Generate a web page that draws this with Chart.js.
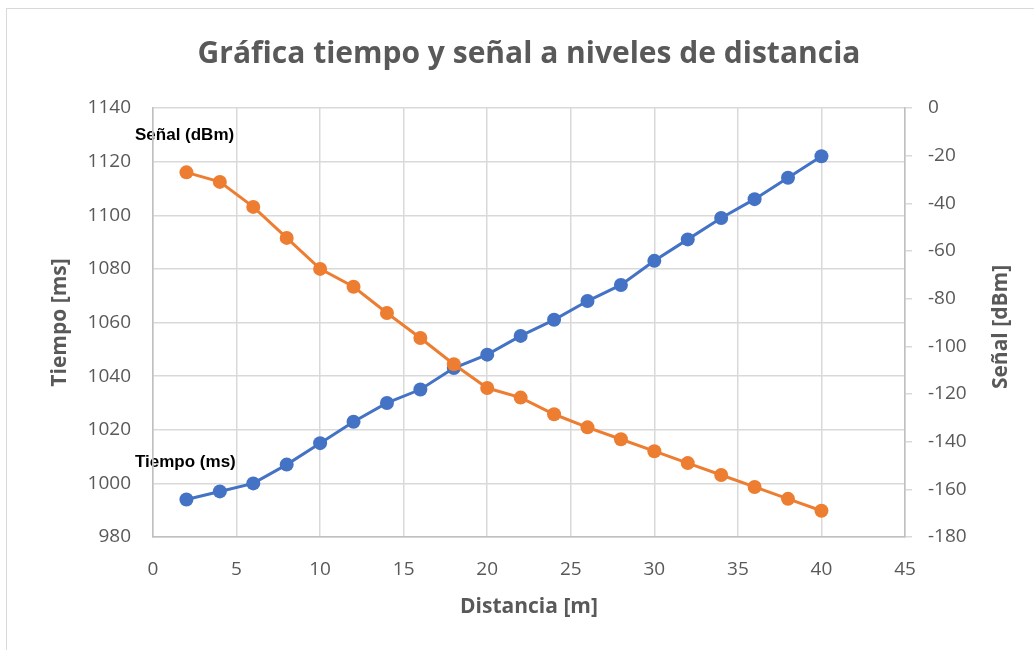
<!DOCTYPE html>
<html>
<head>
<meta charset="utf-8">
<script src="https://cdn.jsdelivr.net/npm/chart.js@4"></script>
<style>
  html, body { margin: 0; padding: 0; background: #fff; overflow: hidden; }
  #frame { position: absolute; left: 6px; top: 8px; width: 1100px; height: 700px; border: 1px solid #d9d9d9; }
  #wrap { position: absolute; left: 0; top: 0; width: 1034px; height: 650px; }
</style>
</head>
<body>
<div id="frame"></div>
<div id="wrap"><canvas id="chart" width="1034" height="650"></canvas></div>
<script>
// distancia [m]
const distancias = [2, 4, 6, 8, 10, 12, 14, 16, 18, 20, 22, 24, 26, 28, 30, 32, 34, 36, 38, 40];
// tiempo [ms]  (eje izquierdo)
const tiempo = [994, 997, 1000, 1007, 1015, 1023, 1030, 1035, 1043, 1048, 1055, 1061, 1068, 1074, 1083, 1091, 1099, 1106, 1114, 1122];
// señal [dBm]  (eje derecho)
const senal = [-27, -31, -41.5, -54.5, -67.5, -75, -86, -96.5, -107.5, -117.5, -121.5, -128.5, -134, -139, -144, -149, -154, -159, -164, -169];

const ejeX = { min: 0, max: 45, step: 5 };
const ejeTiempo = { min: 980, max: 1140, step: 20 };
const ejeSenal = { min: -180, max: 0, step: 20 };

const titulo = "Gráfica tiempo y señal a niveles de distancia";

const gris = "#595959";
const grid = "#d9d9d9";
const tickFont = { family: "'Open Sans', sans-serif", size: 19 };
const titleFont = { family: "'Open Sans', sans-serif", size: 21, weight: "bold" };
const plain = (v) => String(v);

const toPoints = (vals) => distancias.map((d, i) => ({ x: d, y: vals[i] }));

// título centrado sobre el área de trazado, etiquetas sueltas y título del eje derecho
const extraText = {
  id: "extraText",
  beforeDraw(chart) {
    const ctx = chart.ctx;
    const area = chart.chartArea;
    ctx.save();
    ctx.fillStyle = gris;
    ctx.font = "bold 30px 'Open Sans', sans-serif";
    ctx.textAlign = "center";
    ctx.textBaseline = "middle";
    ctx.fillText(titulo, (area.left + area.right) / 2, 54);

    ctx.fillStyle = "#000";
    ctx.font = "bold 17px 'Liberation Sans', Arial, sans-serif";
    ctx.textAlign = "left";
    ctx.fillText("Señal (dBm)", 135, 135);
    ctx.fillText("Tiempo (ms)", 135, 462);
    ctx.restore();
  },
  afterDraw(chart) {
    const ctx = chart.ctx;
    ctx.save();
    ctx.translate(1001, 327);
    ctx.rotate(-Math.PI / 2);
    ctx.fillStyle = gris;
    ctx.font = "bold 21px 'Open Sans', sans-serif";
    ctx.textAlign = "center";
    ctx.textBaseline = "middle";
    ctx.fillText("Señal [dBm]", 0, 0);
    ctx.restore();
  }
};

new Chart(document.getElementById("chart"), {
  type: "line",
  data: {
    datasets: [
      {
        label: "Señal (dBm)",
        data: toPoints(senal),
        yAxisID: "y1",
        order: 0,
        borderColor: "#ED7D31",
        backgroundColor: "#ED7D31",
        borderWidth: 3,
        pointRadius: 7,
        pointBorderWidth: 0,
        pointBackgroundColor: "#ED7D31",
        tension: 0
      },
      {
        label: "Tiempo (ms)",
        data: toPoints(tiempo),
        yAxisID: "y",
        order: 1,
        borderColor: "#4472C4",
        backgroundColor: "#4472C4",
        borderWidth: 3,
        pointRadius: 7,
        pointBorderWidth: 0,
        pointBackgroundColor: "#4472C4",
        tension: 0
      }
    ]
  },
  options: {
    responsive: false,
    animation: false,
    layout: { padding: { top: 108, left: 0, right: 0, bottom: 0 } },
    plugins: {
      legend: { display: false },
      tooltip: { enabled: false },
      title: { display: false }
    },
    scales: {
      x: {
        type: "linear",
        min: ejeX.min,
        max: ejeX.max,
        ticks: { stepSize: ejeX.step, color: gris, font: tickFont, padding: 21, maxRotation: 0, callback: plain },
        grid: { color: grid, lineWidth: 1.5, drawTicks: false },
        border: { color: "#bfbfbf", width: 1.5 },
        title: { display: true, text: "Distancia [m]", color: gris, font: titleFont, padding: { top: 0, bottom: 30 } },
        afterFit(s) { s.height = 113; }
      },
      y: {
        position: "left",
        min: ejeTiempo.min,
        max: ejeTiempo.max,
        ticks: { stepSize: ejeTiempo.step, color: gris, font: tickFont, padding: 22, callback: plain },
        grid: { color: grid, lineWidth: 1.5, drawTicks: false },
        border: { color: "#bfbfbf", width: 1.5 },
        title: { display: true, text: "Tiempo [ms]", color: gris, font: titleFont, padding: { top: 47, bottom: 0 } },
        afterFit(s) { s.width = 153; }
      },
      y1: {
        position: "right",
        min: ejeSenal.min,
        max: ejeSenal.max,
        ticks: { stepSize: ejeSenal.step, color: gris, font: tickFont, padding: 16, callback: plain },
        grid: { drawOnChartArea: false, color: grid, lineWidth: 1.5, tickLength: 7 },
        border: { color: "#bfbfbf", width: 1.5 },
        afterFit(s) { s.width = 129; }
      }
    }
  },
  plugins: [extraText]
});
</script>
</body>
</html>
